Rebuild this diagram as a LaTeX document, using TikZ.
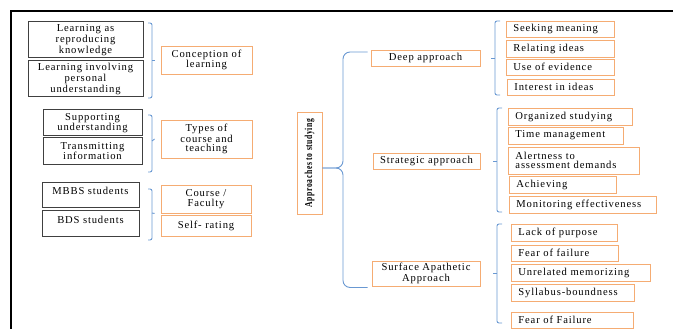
\documentclass[tikz,border=0pt]{standalone}
\usepackage{fontspec}
\setmainfont{Liberation Serif}[LetterSpace=8]
\usepackage{graphicx}
\definecolor{boxorange}{RGB}{245,172,115}
\definecolor{bracketblue}{RGB}{105,152,210}
\tikzset{
  txt/.style={font=\fontsize{10.6}{9.5}\selectfont, inner sep=1pt, align=center},
  blkbox/.style={txt, draw=black!75, line width=1pt},
  orgbox/.style={txt, draw=boxorange, line width=0.9pt},
  itembox/.style={orgbox, anchor=west, align=left, inner xsep=7pt},
  brace/.style={draw=bracketblue, line width=0.9pt, rounded corners=2pt}
}
\begin{document}
\begin{tikzpicture}[x=1pt, y=-1pt]
	\useasboundingbox (0,0) rectangle (673,329);
	\draw[line width=1.2pt] (11,329) -- (11,11) -- (673,11);
	% left column
	\node[blkbox, minimum width=115, minimum height=36] (lrk) at (85.5,40) {Learning as\\reproducing\\knowledge};
	\node[blkbox, minimum width=115, minimum height=36] (lipu) at (85.5,79) {Learning involving\\personal\\understanding};
	\node[blkbox, minimum width=99, minimum height=26] (supp) at (92.5,123) {Supporting\\understanding};
	\node[blkbox, minimum width=99, minimum height=26] (trans) at (92.5,151) {Transmitting\\information};
	\node[blkbox, minimum width=97, minimum height=25, text depth=7pt] (mbbs) at (90.5,194.5) {MBBS students};
	\node[blkbox, minimum width=97, minimum height=26, text depth=7pt] (bds) at (90.5,223) {BDS students};
	\node[orgbox, minimum width=91, minimum height=28] (conc) at (206.5,60) {Conception of\\learning};
	\node[orgbox, minimum width=91, minimum height=38] (types) at (206.5,139) {Types of\\course and\\teaching};
	\node[orgbox, minimum width=90, minimum height=28] (cour) at (206,199) {Course /\\Faculty};
	\node[orgbox, minimum width=90, minimum height=21] (self) at (206,225.5) {Self- rating};
	\draw[brace] (148,23) -- (152,23) -- (152,98) -- (148,98);
	\draw[brace] (152,60) -- ([xshift=-6pt]conc.west);
	\draw[brace] (148,115) -- (152,115) -- (152,172) -- (148,172);
	\draw[brace] (152,141) -- ([xshift=-6pt]types.west);
	\draw[brace] (148,189) -- (152,189) -- (152,240) -- (148,240);
	\draw[brace] (152,213) -- ([xshift=-6pt]cour.south west);
	% approaches
	\node[orgbox, rotate=90, minimum width=102, minimum height=25] (appr) at (309.5,163) {\bfseries\scalebox{0.72}[1]{Approaches to studying}};
	\node[orgbox, minimum width=109, minimum height=16] (deep) at (425.5,58) {Deep approach};
	\node[orgbox, minimum width=107, minimum height=16] (strat) at (426.5,161) {Strategic approach};
	\node[orgbox, minimum width=108, minimum height=25] (surf) at (426,273.5) {Surface Apathetic\\Approach};
	\draw[brace, rounded corners=7pt] ([xshift=-3pt,yshift=6pt]deep.west) -| (343,168) -- ([yshift=-5pt]appr.south);
	\draw[brace, rounded corners=7pt] ([yshift=-5pt]appr.south) -- (343,168) |- ([xshift=-4pt,yshift=-1pt]surf.south west);
	% deep
	\node[itembox, text width=94, minimum height=16] (seek) at (506,29) {Seeking meaning};
	\node[itembox, text width=94, minimum height=17] (rel) at (506,48.5) {Relating ideas};
	\node[itembox, text width=94, minimum height=16] (use) at (506,67) {Use of evidence};
	\node[itembox, text width=93, minimum height=16] (inte) at (507,87) {Interest in ideas};
	\draw[brace] (500,21) -- (495,21) -- (495,95) -- (500,95);
	\draw[brace] (495,58) -- (491,58);
	% strategic
	\node[itembox, text width=110, minimum height=17] (orgs) at (508,116.5) {Organized studying};
	\node[itembox, text width=101, minimum height=17] (time) at (508,135.5) {Time management};
	\node[itembox, text width=117, minimum height=27] (alert) at (508,160.5) {Alertness to\\assessment demands};
	\node[itembox, text width=93, minimum height=17] (achi) at (509,184.5) {Achieving};
	\node[itembox, text width=133, minimum height=17] (moni) at (509,204.5) {Monitoring effectiveness};
	\draw[brace] (502,108) -- (497,108) -- (497,212) -- (502,212);
	\draw[brace] (497,161) -- (493,161);
	% surface
	\node[itembox, text width=92, minimum height=17] (lack) at (511,232.5) {Lack of purpose};
	\node[itembox, text width=93, minimum height=16] (fear) at (511,253) {Fear of failure};
	\node[itembox, text width=125, minimum height=17] (unre) at (511,272.5) {Unrelated memorizing};
	\node[itembox, text width=109, minimum height=17] (syll) at (511,292.5) {Syllabus-boundness};
	\node[itembox, text width=108, minimum height=16] (fearb) at (511,320) {Fear of Failure};
	\draw[brace] (502,224) -- (497,224) -- (497,323) -- (502,323);
	\draw[brace] (497,273) -- (493,273);
\end{tikzpicture}
\end{document}
